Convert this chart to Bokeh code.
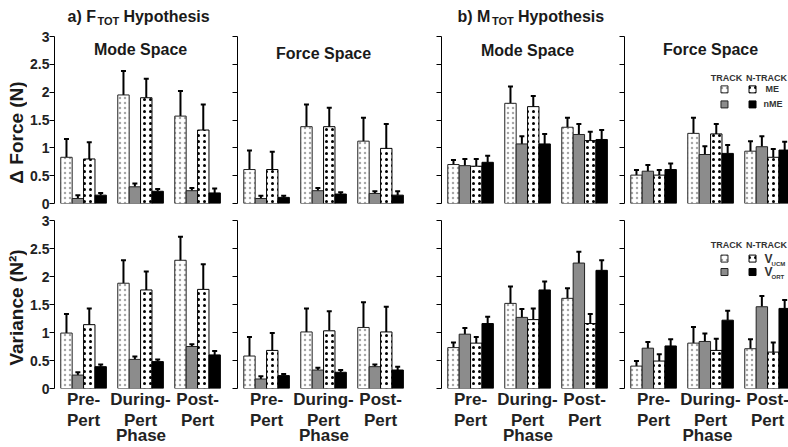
import numpy as np
from bokeh.plotting import figure
from bokeh.models import (ColumnDataSource, Whisker, TeeHead, FixedTicker,
                          NumeralTickFormatter, CustomJSTickFormatter, Range1d)
from bokeh.layouts import gridplot, column, row
from bokeh.embed import file_html
from bokeh.resources import INLINE
from bokeh.core.properties import value

# ---------------- data ----------------
phases = ["Pre-\nPert", "During-\nPert", "Post-\nPert"]
series_names = ["TRACK ME", "TRACK nME", "N-TRACK ME", "N-TRACK nME"]
y_ticks = [0, 0.5, 1, 1.5, 2, 2.5, 3]

# rows follow series_names, columns follow phases
ftot_mode_dforce = [[0.83, 1.95, 1.57], [0.09, 0.30, 0.23], [0.80, 1.90, 1.32], [0.15, 0.22, 0.19]]
ftot_mode_dforce_se = [[0.33, 0.43, 0.45], [0.06, 0.06, 0.05], [0.30, 0.34, 0.46], [0.04, 0.04, 0.08]]
ftot_force_dforce = [[0.61, 1.38, 1.12], [0.09, 0.23, 0.18], [0.61, 1.38, 0.99], [0.11, 0.17, 0.15]]
ftot_force_dforce_se = [[0.34, 0.40, 0.42], [0.05, 0.05, 0.04], [0.32, 0.34, 0.44], [0.03, 0.03, 0.07]]
mtot_mode_dforce = [[0.70, 1.80, 1.37], [0.68, 1.07, 1.24], [0.67, 1.74, 1.13], [0.74, 1.07, 1.15]]
mtot_mode_dforce_se = [[0.08, 0.30, 0.17], [0.12, 0.14, 0.19], [0.13, 0.19, 0.16], [0.12, 0.18, 0.17]]
mtot_force_dforce = [[0.51, 1.26, 0.94], [0.58, 0.88, 1.02], [0.51, 1.25, 0.83], [0.61, 0.90, 0.96]]
mtot_force_dforce_se = [[0.09, 0.28, 0.18], [0.11, 0.15, 0.19], [0.09, 0.18, 0.15], [0.11, 0.15, 0.15]]

ftot_mode_var = [[0.99, 1.88, 2.29], [0.24, 0.52, 0.75], [1.14, 1.76, 1.77], [0.39, 0.48, 0.60]]
ftot_mode_var_se = [[0.34, 0.41, 0.42], [0.05, 0.05, 0.04], [0.29, 0.33, 0.45], [0.04, 0.04, 0.07]]
ftot_force_var = [[0.58, 1.01, 1.09], [0.17, 0.33, 0.39], [0.68, 1.03, 1.01], [0.23, 0.29, 0.33]]
ftot_force_var_se = [[0.34, 0.42, 0.45], [0.05, 0.04, 0.04], [0.31, 0.35, 0.45], [0.03, 0.04, 0.06]]
mtot_mode_var = [[0.73, 1.52, 1.61], [0.97, 1.27, 2.24], [0.81, 1.23, 1.16], [1.16, 1.76, 2.11]]
mtot_mode_var_se = [[0.09, 0.30, 0.18], [0.11, 0.15, 0.20], [0.11, 0.20, 0.17], [0.12, 0.15, 0.18]]
mtot_force_var = [[0.40, 0.81, 0.71], [0.72, 0.84, 1.46], [0.49, 0.68, 0.65], [0.76, 1.22, 1.43]]
mtot_force_var_se = [[0.09, 0.29, 0.17], [0.11, 0.14, 0.19], [0.12, 0.21, 0.17], [0.12, 0.17, 0.15]]

FONT = "Liberation Sans"
TXT = "#1a1a1a"
offsets = [-0.3, -0.1, 0.1, 0.3]
bar_w = 0.2
styles = [
    dict(fill_color="white", hatch_pattern="dot", hatch_color="#a8a8a8", hatch_scale=5, hatch_weight=2.5, line_color="#222222"),
    dict(fill_color="#8c8c8c", line_color="#222222"),
    dict(fill_color="white", hatch_pattern="dot", hatch_color="black", hatch_scale=6, hatch_weight=3.5, line_color="black"),
    dict(fill_color="black", line_color="black"),
]


def bare(p):
    p.grid.visible = False
    p.outline_line_color = None
    p.background_fill_color = "white"
    p.border_fill_color = "white"


def make_panel(means, ses, left_border, frame_w, top_row, label_ticks):
    x_end = -0.51 + frame_w / 57.0
    p = figure(frame_width=frame_w, frame_height=167 if top_row else 168,
               x_range=Range1d(-0.51, x_end), y_range=Range1d(0, 3),
               output_backend="svg", toolbar_location=None, title=None,
               x_axis_location=None if top_row else "below",
               min_border_left=left_border, min_border_right=0,
               min_border_top=6 if top_row else 8,
               min_border_bottom=9 if top_row else 59)
    bare(p)
    xs = np.arange(len(phases), dtype=float)
    for k in range(len(series_names)):
        src = ColumnDataSource(dict(x=xs + offsets[k], top=means[k],
                                    upper=np.array(means[k]) + np.array(ses[k])))
        p.vbar(x="x", top="top", bottom=0, width=bar_w, source=src, line_width=1, **styles[k])
        p.add_layout(Whisker(source=src, base="x", upper="upper", lower="top", dimension="height",
                             line_width=2, line_color="black", lower_head=None,
                             upper_head=TeeHead(size=5, line_width=2, line_color="black")))
    ax = p.yaxis[0]
    ax.ticker = FixedTicker(ticks=y_ticks)
    ax.major_tick_out = 5
    ax.major_tick_in = 0
    ax.minor_tick_line_color = None
    ax.axis_line_color = "black"
    ax.major_tick_line_color = "black"
    ax.major_label_standoff = 0
    if label_ticks:
        ax.formatter = NumeralTickFormatter(format="0.[0]")
        ax.major_label_text_font = FONT
        ax.major_label_text_font_size = "14px"
        ax.major_label_text_font_style = "bold"
        ax.major_label_text_color = "#222222"
    else:
        ax.formatter = CustomJSTickFormatter(code="return ''")
    if not top_row:
        xa = p.xaxis[0]
        xa.ticker = FixedTicker(ticks=[0, 1, 2])
        xa.major_label_overrides = {i: phases[i] for i in range(3)}
        xa.axis_line_color = None
        xa.major_tick_line_color = None
        xa.minor_tick_line_color = None
        xa.major_label_standoff = -5
        xa.major_label_text_font = FONT
        xa.major_label_text_font_size = "17px"
        xa.major_label_text_font_style = "bold"
        xa.major_label_text_line_height = 1.15
        xa.major_label_text_color = "#222222"
        xa.axis_label = "Phase"
        xa.axis_label_text_font = FONT
        xa.axis_label_text_font_size = "17px"
        xa.axis_label_text_font_style = "bold"
        xa.axis_label_text_color = "#222222"
        xa.axis_label_standoff = -7
    return p


def ptext(p, x, y, s, size, align="left", baseline="alphabetic", angle=0.0):
    p.text(x=[x], y=[y], text=[s], text_font=value(FONT), text_font_size=size,
           text_font_style="bold", text_align=align, text_baseline=baseline,
           angle=angle, text_color=TXT)


f1 = make_panel(ftot_mode_dforce, ftot_mode_dforce_se, 25, 173, True, True)
f2 = make_panel(ftot_force_dforce, ftot_force_dforce_se, 10, 173, True, False)
f3 = make_panel(mtot_mode_dforce, mtot_mode_dforce_se, 31, 173, True, False)
f4 = make_panel(mtot_force_dforce, mtot_force_dforce_se, 10, 166, True, False)
f5 = make_panel(ftot_mode_var, ftot_mode_var_se, 25, 173, False, True)
f6 = make_panel(ftot_force_var, ftot_force_var_se, 10, 173, False, False)
f7 = make_panel(mtot_mode_var, mtot_mode_var_se, 31, 173, False, False)
f8 = make_panel(mtot_force_var, mtot_force_var_se, 10, 166, False, False)

# subtitles inside the top panels
ptext(f1, 1.0, 2.77, "Mode Space", "16px", "center", "middle")
ptext(f2, 1.0, 2.70, "Force Space", "16px", "center", "middle")
ptext(f3, 1.0, 2.74, "Mode Space", "16px", "center", "middle")
ptext(f4, 1.0, 2.76, "Force Space", "16px", "center", "middle")


def legend(p, y_head, y_row1, y_row2, yscale, lab1, lab2, sub=None):
    p.text(x=[1.28, 1.98], y=[y_head, y_head], text=["TRACK", "N-TRACK"], text_font=value(FONT),
           text_font_size="9px", text_font_style="bold", text_align="center",
           text_baseline="middle", text_color="#333333")
    for k, (xx, yy) in enumerate([(1.244, y_row1), (1.244, y_row2), (1.736, y_row1), (1.736, y_row2)]):
        p.rect(x=[xx], y=[yy], width=7, height=7, width_units="screen", height_units="screen",
               line_width=1, **styles[k])
    if sub is None:
        p.text(x=[1.964, 1.93], y=[y_row1, y_row2], text=[lab1, lab2], text_font=value(FONT),
               text_font_size="9px", text_font_style="bold", text_align="left",
               text_baseline="middle", text_color="#333333")
    else:
        p.text(x=[1.946, 1.946], y=[y_row1, y_row2], text=[lab1, lab2], text_font=value(FONT),
               text_font_size="12px", text_font_style="bold", text_align="left",
               text_baseline="middle", text_color="#333333")
        p.text(x=[2.07, 2.07], y=[y_row1 - 5 / yscale, y_row2 - 5 / yscale], text=sub,
               text_font=value(FONT), text_font_size="6px", text_font_style="bold",
               text_align="left", text_baseline="middle", text_color="#333333")


legend(f4, 2.25, 2.05, 1.78, 55.67, "ME", "nME")
legend(f8, 2.56, 2.32, 2.08, 56.0, "V", "V", sub=["UCM", "ORT"])

grid = gridplot([[f1, f2, f3, f4], [f5, f6, f7, f8]], toolbar_location=None)

# header strip with the two hypothesis titles (pixel coordinates)
header = figure(frame_width=788, frame_height=30, x_range=Range1d(0, 788), y_range=Range1d(30, 0),
                output_backend="svg", toolbar_location=None, title=None,
                x_axis_location=None, y_axis_location=None, min_border=0)
bare(header)
for x0, lead in [(67, "a) F"), (457, "b) M")]:
    lead_w = 28.4 if lead.startswith("a") else 32.9
    ptext(header, x0, 16, lead, "16px")
    ptext(header, x0 + lead_w + 1.5, 20.5, "TOT", "11px")
    ptext(header, x0 + lead_w + 27.5, 16, "Hypothesis", "16px")

# left strip with the rotated y-axis titles (pixel coordinates)
strip = figure(frame_width=27, frame_height=417, x_range=Range1d(0, 27), y_range=Range1d(447, 30),
               output_backend="svg", toolbar_location=None, title=None,
               x_axis_location=None, y_axis_location=None, min_border=0)
bare(strip)
ptext(strip, 15.5, 132, "\u0394 Force (N)", "19px", "center", "middle", np.pi / 2)
ptext(strip, 15.5, 307, "Variance (N\u00b2)", "19px", "center", "middle", np.pi / 2)

layout = column(header, row(strip, grid))
open("out.html", "w").write(file_html(layout, INLINE))
